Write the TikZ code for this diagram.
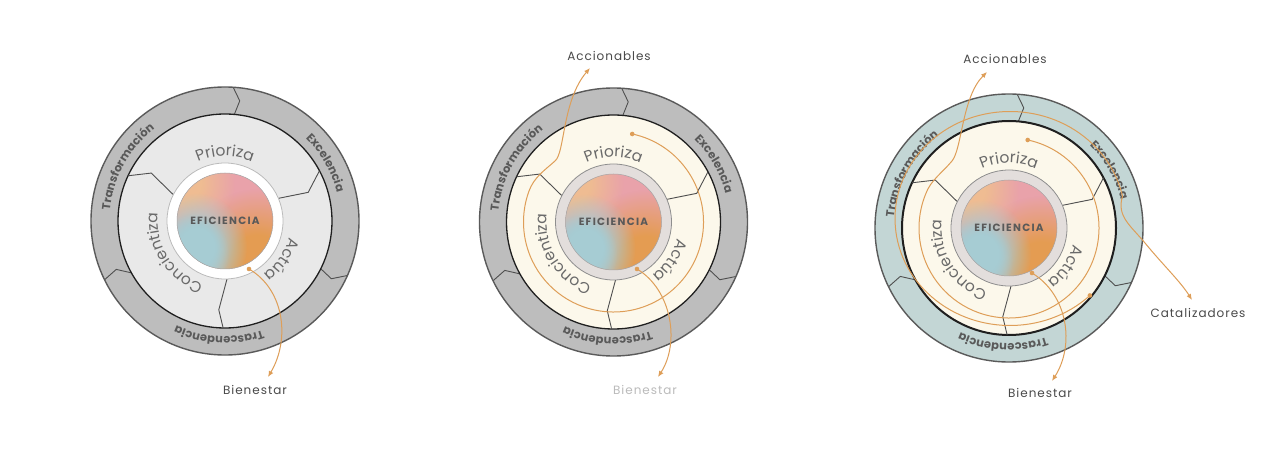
\documentclass[tikz,border=0pt]{standalone}
\usepackage{fontspec}
\setmainfont{Poppins}
\usetikzlibrary{decorations.text,fadings,arrows.meta,calc}
\definecolor{ringgray}{HTML}{BDBDBD}
\definecolor{ringteal}{HTML}{C3D6D5}
\definecolor{ringedge}{HTML}{5A5A5A}
\definecolor{discgray}{HTML}{E9E9E9}
\definecolor{cream}{HTML}{FCF8EB}
\definecolor{hubgray}{HTML}{E3DEDC}
\definecolor{hubedge}{HTML}{8E8E8E}
\definecolor{hubedgelight}{HTML}{BBBBBB}
\definecolor{sepc}{HTML}{4F4F4F}
\definecolor{org}{HTML}{DE9E58}
\definecolor{txtc}{HTML}{6A6A6A}
\definecolor{boldc}{HTML}{595959}
\definecolor{lblc}{HTML}{4A4A4A}
\definecolor{lblfaint}{HTML}{BBBBBB}
\definecolor{gpink}{HTML}{E9A2AA}
\definecolor{gorange}{HTML}{E49C52}
\definecolor{gblue}{HTML}{A6CCD3}
\definecolor{gpeach}{HTML}{EFBC92}
\pgfdeclareradialshading{blobshade}{\pgfpointorigin}{color(0bp)=(transparent!0); color(9bp)=(transparent!0); color(25bp)=(transparent!100); color(50bp)=(transparent!100)}
\pgfdeclarefading{blob}{\pgfuseshading{blobshade}}
\tikzset{
  sepline/.style={draw=sepc, line width=0.9pt, line join=round},
  flow/.style={draw=org, line width=1pt},
  flowarrow/.style={flow, -{Latex[length=6pt,width=5pt]}},
  lbl/.style={font=\fontsize{12}{14}\selectfont\addfontfeatures{LetterSpace=8}, text=lblc, inner sep=1pt},
  effstyle/.style={font=\fontsize{10.5}{12}\selectfont\bfseries\addfontfeatures{LetterSpace=12}, text=boldc, inner sep=0pt},
}
\newcommand\curvetext[6]{\path[decorate,decoration={text along path,text align=center,text color=#2,text={|#1|#6}}] (#4:#3) arc (#4:#5:#3);}
\newcommand\wheel[7]{%
\begin{scope}[shift={(#1)}]
  \fill[#2] (0,0) circle (134);
  \fill[#3] (0,0) circle (107);
  \draw[sepline] (86.5:134) -- (83:121) -- (85:107);
  \draw[sepline] (-24:134) -- (-28.5:121) -- (-26.5:107);
  \draw[sepline] (206:134) -- (204:119) -- (209:107);
  \draw[ringedge, line width=1.4pt] (0,0) circle (134);
  \draw[black!88, line width=#6] (0,0) circle (107);
  \draw[sepline] (153:58) -- (147:88) -- (155:107);
  \draw[sepline] (23:58) -- (19:88) -- (28:107);
  \draw[sepline] (-88:58) -- (-94:89) -- (-91:107);
  \filldraw[fill=#4, draw=#5, line width=0.8pt] (0,0) circle (58);
  \begin{scope}
    \clip (0,0) circle (48);
    \fill[gpink] (-50,-50) rectangle (50,50);
    \fill[gorange, path fading=blob] (32,-40) circle (72);
    \fill[gpeach, path fading=blob] (-42,38) circle (52);
    \fill[gblue, path fading=blob] (-28,-26) ellipse (50 and 54);
    \fill[gblue, path fading=blob] (-32,-32) ellipse (36 and 40);
  \end{scope}
  \draw[gray!70, line width=0.5pt] (0,0) circle (48);
  \node[effstyle] (eff#7) at (0,0) {EFICIENCIA};
  \curvetext{\fontsize{15.5}{18}\selectfont}{txtc}{65}{135}{45}{Prioriza}
  \curvetext{\fontsize{15.5}{18}\selectfont}{txtc}{66}{6}{-74}{Actúa}
  \curvetext{\fontsize{15.5}{18}\selectfont}{txtc}{67}{263}{161}{Concientiza}
  \curvetext{\fontsize{11.5}{13}\selectfont\bfseries}{boldc}{115.5}{205}{97}{Transformación}
  \curvetext{\fontsize{11.5}{13}\selectfont\bfseries}{boldc}{115.5}{72}{-12}{Excelencia}
  \curvetext{\fontsize{11.5}{13}\selectfont\bfseries}{boldc}{115.5}{325}{209}{Trascendencia}
\end{scope}}
\begin{document}
\begin{tikzpicture}[x=1pt,y=1pt]
\useasboundingbox (0,0) rectangle (1280,453);
\fill[white] (0,0) rectangle (1280,453);
% ---------- diagram 1
\wheel{225,232}{ringgray}{discgray}{white}{hubedgelight}{1.3pt}{A}
\coordinate (dotA) at (249,184);
\fill[org] (dotA) circle (2.3);
\node[lbl] (bienA) at (255,63) {Bienestar};
\coordinate (tipA) at (268,76);
\draw[flowarrow] (dotA) .. controls (285,163) and (290,113) .. (tipA);
% ---------- diagram 2
\wheel{613.5,231}{ringgray}{cream}{hubgray}{hubedge}{1.3pt}{B}
\coordinate (dotB) at (637,184);
\fill[org] (dotB) circle (2.3);
\node[lbl, text=lblfaint] (bienB) at (645,63) {Bienestar};
\coordinate (tipB) at (658,76);
\draw[flowarrow] (dotB) .. controls (672,163) and (680,110) .. (tipB);
\coordinate (loopB) at ($(613.5,231)+(78:90)$);
\node[lbl] (accB) at (609,397) {Accionables};
\coordinate (tipB2) at (590,385);
\fill[org] (loopB) circle (2.3);
\draw[flowarrow] (loopB) arc (78:-200:90) .. controls +(5,14) and (545,283) .. (555,292) .. controls (565,300) and (562,352) .. (tipB2);
% ---------- diagram 3
\wheel{1009,225}{ringteal}{cream}{hubgray}{hubedge}{2pt}{C}
\coordinate (dotC) at (1032,180);
\fill[org] (dotC) circle (2.3);
\node[lbl] (bienC) at (1040,60) {Bienestar};
\coordinate (tipC) at (1052,72);
\draw[flowarrow] (dotC) .. controls (1068,158) and (1075,108) .. (tipC);
\coordinate (loopC) at ($(1009,225)+(78:90)$);
\node[lbl] (accC) at (1005,394) {Accionables};
\coordinate (tipC2) at (987,381);
\fill[org] (loopC) circle (2.3);
\draw[flowarrow] (loopC) arc (78:-202:90) .. controls +(5,14) and (942,280) .. (952,292) .. controls (962,304) and (962,356) .. (tipC2);
\coordinate (loopC2) at ($(1010,234.5)+({115*cos(-46)},{107*sin(-46)})$);
\node[lbl] (catC) at (1198,140) {Catalizadores};
\coordinate (tipC3) at (1192,153);
\fill[org] (loopC2) circle (2.3);
\draw[flowarrow] (loopC2) arc[start angle=-46, end angle=-348, x radius=115, y radius=107] .. controls +(-6,-20) and (1130,228) .. (1145,210) .. controls (1163,188) and (1180,172) .. (tipC3);
\end{tikzpicture}
\end{document}
